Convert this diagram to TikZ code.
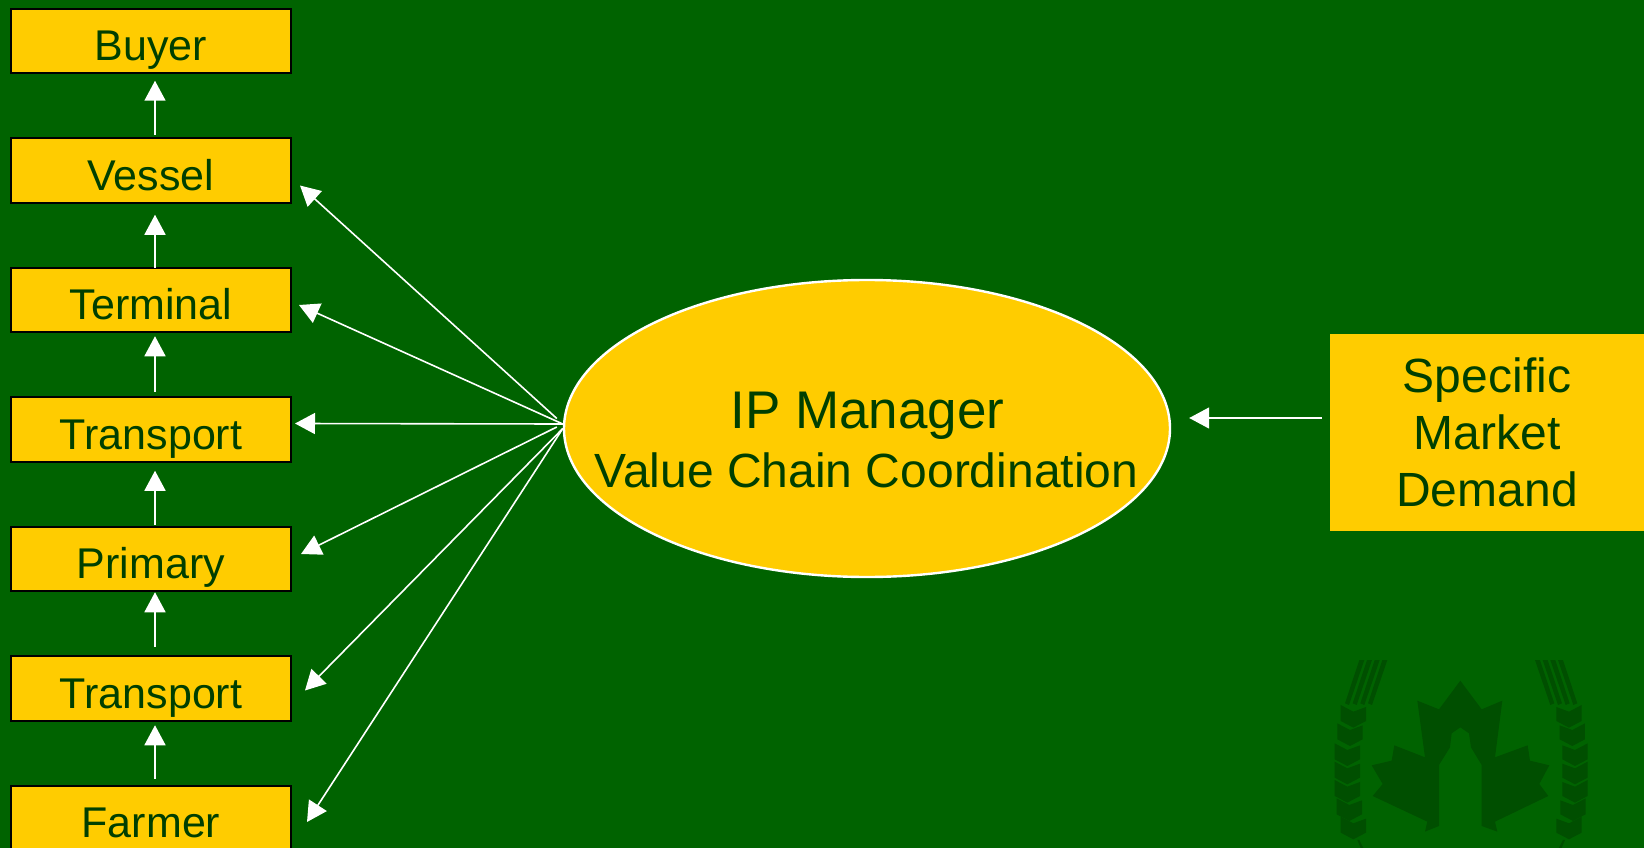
\documentclass[tikz,border=0pt]{standalone}
\usepackage{fontspec}
\setmainfont{Liberation Sans}
\usetikzlibrary{positioning,arrows.meta,shapes.geometric}
\definecolor{bggreen}{HTML}{006300}
\definecolor{boxyellow}{HTML}{FFCC00}
\definecolor{inkgreen}{HTML}{003F00}
\definecolor{logogreen}{HTML}{004F00}

\begin{document}
\begin{tikzpicture}[x=1pt,y=-1pt,
	stage/.style={rectangle, draw=black, line width=2pt, fill=boxyellow, text=inkgreen, minimum width=280pt, minimum height=64.5pt, inner sep=0pt, text height=39pt, text depth=0pt, font=\fontsize{43}{48}\selectfont},
	ink/.style={text=inkgreen, inner sep=0pt, anchor=base},
	flow/.style={draw=white, line width=1.6pt, -{Triangle[length=20pt,width=21pt]}},
	kernel/.style={fill=logogreen}
	]
	
	\useasboundingbox (0,0) rectangle (1644,848);
	\fill[bggreen] (0,0) rectangle (1644,848);
	
	% logo
	\begin{scope}[shift={(1300,640)},x=0.3333pt,y=-0.3333pt]
		\fill[logogreen] (481,122) -- (545,208) -- (607,182) -- (585,352) -- (683,316) -- (690,362) -- (748,376) -- (718,432) -- (745,468) -- (585,545) -- (592,575) -- (545,558) -- (545,375) -- (513,322) -- (507,280) -- (481,262) -- (455,280) -- (450,322) -- (417,375) -- (417,558) -- (375,575) -- (382,545) -- (218,468) -- (248,432) -- (215,376) -- (275,362) -- (283,316) -- (375,352) -- (352,182) -- (417,208) -- cycle;
		\foreach \xs/\xo in {1/0,-1/967}{
			\begin{scope}[shift={(\xo,0)},x=\xs*0.3333pt]
				\foreach \sx in {0,23,46,69}
				\fill[logogreen] (178+\sx,60) -- (193+\sx,60) -- (147+\sx,195) -- (135+\sx,190) -- cycle;
				\foreach \cx/\cy in {160/223,150/278,142/338,142/393,142/448,148/503,160/558}
				\fill[kernel] (\cx-38,\cy-28) -- (\cx,\cy-8) -- (\cx+38,\cy-22) -- (\cx+38,\cy+20) -- (\cx,\cy+40) -- (\cx-38,\cy+20) -- cycle;
				\fill[logogreen] (172,600) -- (178,600) -- (190,624) -- (182,624) -- cycle;
			\end{scope}
		}
	\end{scope}
	
	\node[stage] (buyer) at (151,41) {Buyer};
	\node[stage] (vessel) [below=63pt of buyer] {Vessel};
	\node[stage] (terminal) [below=63pt of vessel] {Terminal};
	\node[stage] (transportb) [below=63pt of terminal] {Transport};
	\node[stage] (primary) [below=63pt of transportb] {Primary};
	\node[stage] (transporta) [below=63pt of primary] {Transport};
	\node[stage] (farmer) [below=63pt of transporta] {Farmer};
	
	\node[ellipse, draw=white, line width=2.4pt, fill=boxyellow, minimum width=606pt, minimum height=297pt, inner sep=0pt] (manager) at (867,428.5) {};
	\node[ink, font=\fontsize{53}{60}\selectfont] (title) at (867.5,428) {IP Manager};
	\node[ink, font=\fontsize{48}{56}\selectfont] (chain) at (866.5,487.5) {Value Chain Coordination};
	
	\node[rectangle, fill=boxyellow, text=inkgreen, minimum width=314pt, minimum height=197pt, inner sep=0pt, align=center, font=\fontsize{48}{57}\selectfont] (market) at (1487,432) {Specific\\Market\\Demand};
	
	\foreach \from/\to/\tl/\tp in {vessel/buyer/2.5/6.5,terminal/vessel/-1/11,transportb/terminal/4.5/3,primary/transportb/1/8,transporta/primary/8.5/0,farmer/transporta/6/3.5}
	\draw [flow, shorten <=\tl pt, shorten >=\tp pt] ([xshift=4pt]\from.north) -- ([xshift=4pt]\to.south);
	
	\coordinate (hubup) at ([shift={(-6,-10)}]manager.west);
	\coordinate (hub) at ([yshift=4.5pt]manager.west);
	\coordinate (hubdown) at ([shift={(-6,-1.5)}]manager.west);
	\draw [flow] (hubup) -- ([shift={(8,15)}]vessel.east);
	\draw [flow] (hub) -- ([shift={(7,5)}]terminal.east);
	\draw [flow] (hub) -- ([shift={(3,-6)}]transportb.east);
	\draw [flow] (hubdown) -- ([shift={(9,-5)}]primary.east);
	\draw [flow] (manager.west) -- ([shift={(13,2)}]transporta.east);
	\draw [flow] (manager.west) -- ([shift={(15,4)}]farmer.east);
	\draw [flow, shorten <=8pt, shorten >=18pt] ([yshift=14pt]market.west) -- ([yshift=10.5pt]manager.east);
	
\end{tikzpicture}
\end{document}
